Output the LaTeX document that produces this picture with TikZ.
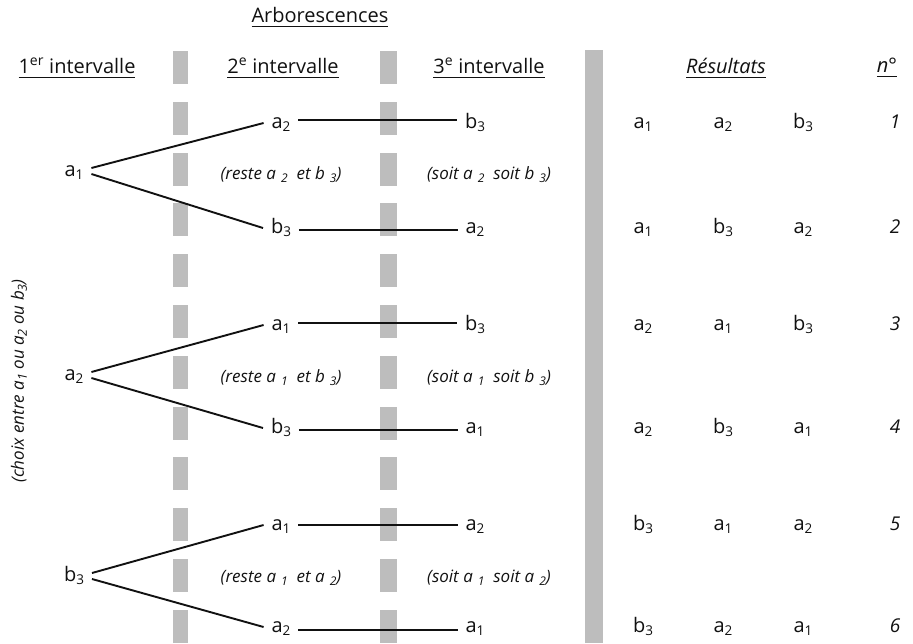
\documentclass[tikz,border=0pt]{standalone}
\usepackage{fontspec}
\setmainfont{Open Sans}
\definecolor{barc}{HTML}{BDBDBD}
\definecolor{ink}{HTML}{111111}
\newcommand\ls[2]{#1\raisebox{-3.5pt}{\fontsize{13.5}{14}\selectfont #2}}
\newcommand\lsi[2]{#1\hspace{0.3em}\raisebox{-3pt}{\fontsize{12}{12}\selectfont #2}}
\newcommand\lss[2]{#1\raisebox{-3pt}{\fontsize{12.5}{12}\selectfont #2}}
\newcommand\myul[1]{\setbox0\hbox{#1}\rlap{\raisebox{-4.5pt}{\rule{\wd0}{1.2pt}}}\box0}
\begin{document}
\begin{tikzpicture}[x=1pt,y=-1pt,
  every node/.style={text=ink},
  lt/.style={font=\fontsize{20}{22}\selectfont, inner sep=0pt, outer sep=8pt, text height=14pt, text depth=4pt, anchor=center},
  hd/.style={font=\fontsize{20}{22}\selectfont, inner sep=0pt, anchor=center},
  it/.style={font=\fontsize{17}{19}\selectfont\itshape, inner sep=0pt, anchor=center},
  br/.style={draw=ink, line width=1.9pt},
  hl/.style={draw=ink, line width=1.6pt}]
\useasboundingbox (0,0) rectangle (913,643);
% bars
\foreach \k in {0,...,11}{
  \fill[barc] (173,{51+50.8*\k}) rectangle (188,{84+50.8*\k});
  \fill[barc] (380,{51+50.8*\k}) rectangle (397,{84+50.8*\k});
}
\fill[barc] (585,50) rectangle (603,643);
% headers
\node[hd] (title) at (320,17) {\myul{Arborescences}};
\node[hd] (h1) at (77,68) {\myul{1\textsuperscript{er} intervalle}};
\node[hd] (h2) at (283,68) {\myul{2\textsuperscript{e} intervalle}};
\node[hd] (h3) at (489,68) {\myul{3\textsuperscript{e} intervalle}};
\node[hd,font=\fontsize{20}{22}\selectfont\itshape] (hr) at (726,68) {\myul{Résultats}};
\node[hd,font=\fontsize{20}{22}\selectfont\itshape] (hn) at (887,68) {\myul{n°}};
% side label
\node[it,rotate=90,font=\fontsize{17}{19}\selectfont\itshape] (side) at (19,381) {(choix entre \lss{a}{1} ou \lss{a}{2} ou \lss{b}{3})};
% group 1
\node[lt] (g1) at (74,171) {\ls{a}{1}};
\node[lt] (r1b) at (281,123) {\ls{a}{2}};
\node[lt] (r1c) at (475,123) {\ls{b}{3}};
\node[lt] (r2b) at (281,228) {\ls{b}{3}};
\node[lt] (r2c) at (475,228) {\ls{a}{2}};
\node[it] (t1) at (281,175) {(reste \lsi{a}{2} \ et \lsi{b}{3})};
\node[it] (u1) at (489,175) {(soit \lsi{a}{2} \ soit \lsi{b}{3})};
% group 2
\node[lt] (g2) at (74,375) {\ls{a}{2}};
\node[lt] (r3b) at (281,325) {\ls{a}{1}};
\node[lt] (r3c) at (475,325) {\ls{b}{3}};
\node[lt] (r4b) at (281,428) {\ls{b}{3}};
\node[lt] (r4c) at (475,428) {\ls{a}{1}};
\node[it] (t2) at (281,378) {(reste \lsi{a}{1} \ et \lsi{b}{3})};
\node[it] (u2) at (489,378) {(soit \lsi{a}{1} \ soit \lsi{b}{3})};
% group 3
\node[lt] (g3) at (74,576) {\ls{b}{3}};
\node[lt] (r5b) at (281,525) {\ls{a}{1}};
\node[lt] (r5c) at (475,525) {\ls{a}{2}};
\node[lt] (r6b) at (281,627) {\ls{a}{2}};
\node[lt] (r6c) at (475,627) {\ls{a}{1}};
\node[it] (t3) at (281,578) {(reste \lsi{a}{1} \ et \lsi{a}{2})};
\node[it] (u3) at (489,578) {(soit \lsi{a}{1} \ soit \lsi{a}{2})};
% branches
\foreach \g/\a/\b in {g1/r1b/r2b, g2/r3b/r4b, g3/r5b/r6b}{
  \draw[br] ([yshift=3pt]\g.east) -- (\a.west);
  \draw[br] ([yshift=-3pt]\g.east) -- (\b.west);
}
\foreach \a/\b/\s in {r1b/r1c/3, r2b/r2c/-2, r3b/r3c/2, r4b/r4c/-2, r5b/r5c/0, r6b/r6c/-3}{
  \draw[hl] ([yshift=\s pt]\a.east) -- ([yshift=\s pt]\b.west);
}
% results
\foreach \y/\p/\q/\r/\n in {123/\ls{a}{1}/\ls{a}{2}/\ls{b}{3}/1,
                            228/\ls{a}{1}/\ls{b}{3}/\ls{a}{2}/2,
                            325/\ls{a}{2}/\ls{a}{1}/\ls{b}{3}/3,
                            428/\ls{a}{2}/\ls{b}{3}/\ls{a}{1}/4,
                            525/\ls{b}{3}/\ls{a}{1}/\ls{a}{2}/5,
                            627/\ls{b}{3}/\ls{a}{2}/\ls{a}{1}/6}{
  \node[lt] (res\n a) at (643,\y) {\p};
  \node[lt] (res\n b) at (723,\y) {\q};
  \node[lt] (res\n c) at (803,\y) {\r};
  \node[lt,font=\fontsize{19}{20}\selectfont\itshape] (num\n) at (895,\y) {\n};
}
\end{tikzpicture}
\end{document}
